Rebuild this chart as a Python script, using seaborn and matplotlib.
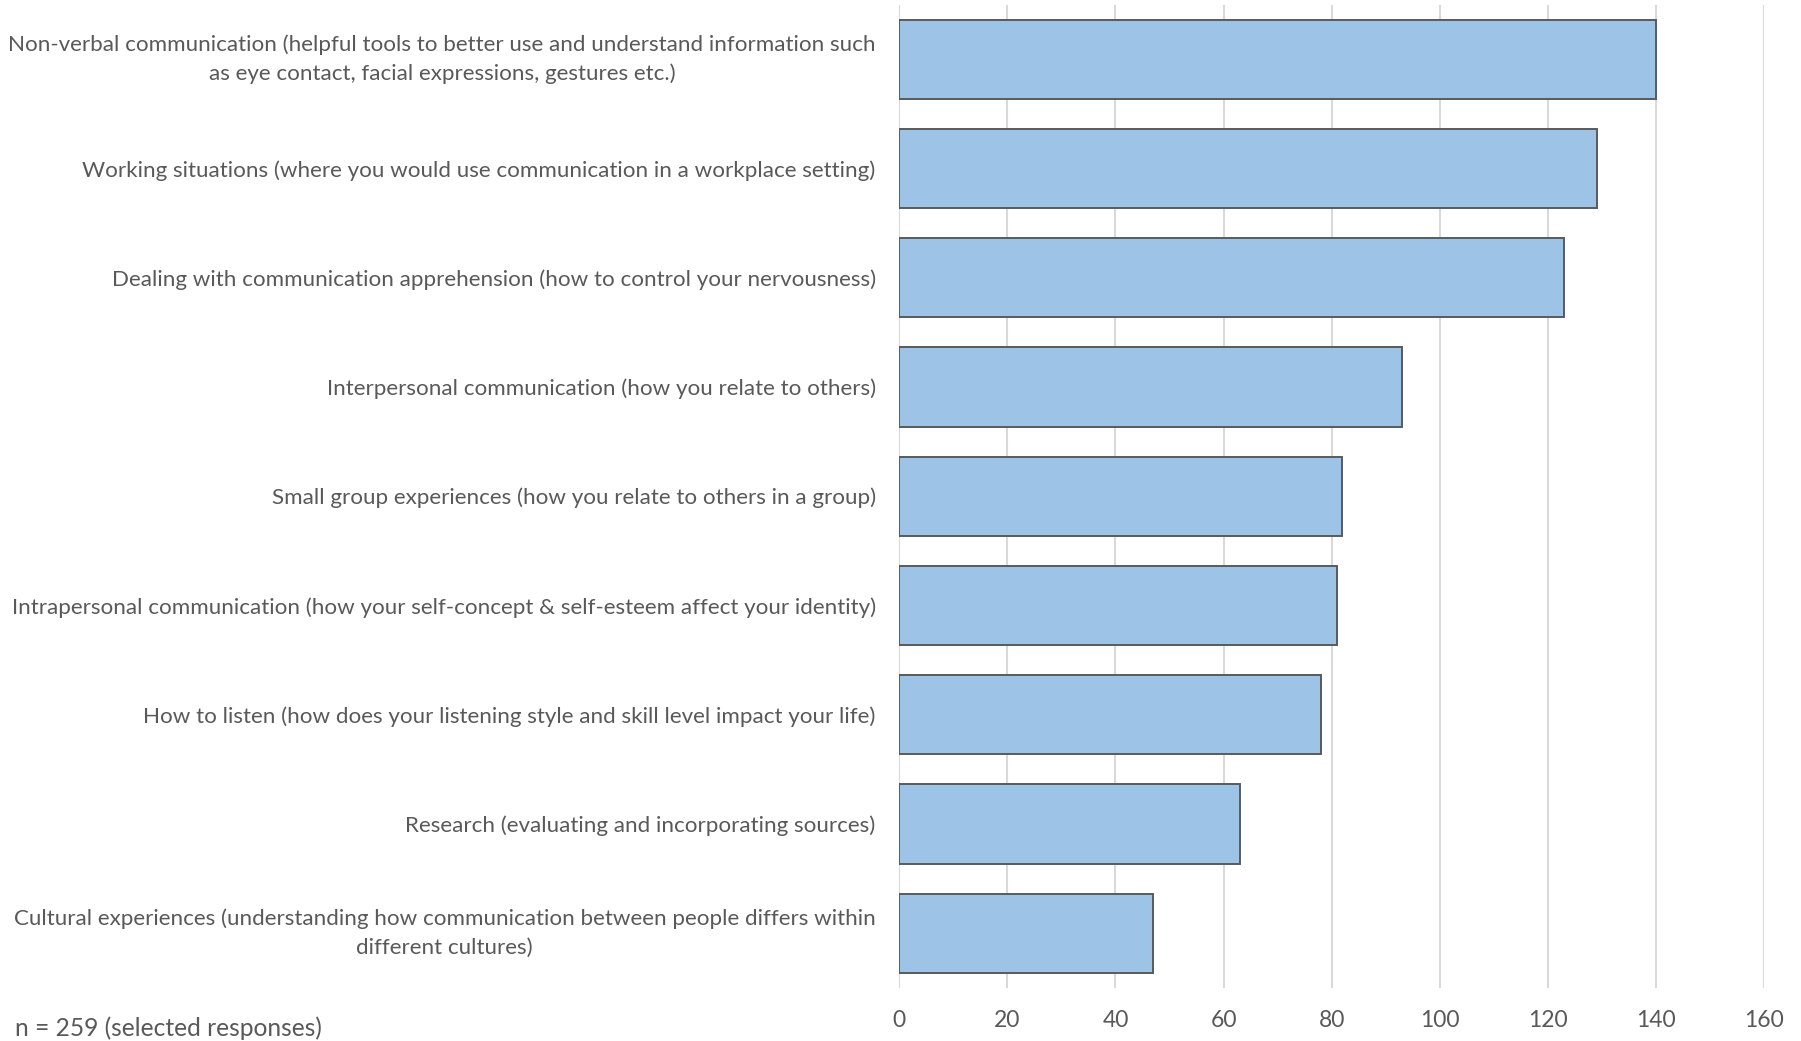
import matplotlib
matplotlib.use("Agg")
import matplotlib.pyplot as plt
import seaborn as sns
import pandas as pd

categories = [
    "Non-verbal communication (helpful tools to better use and understand information such\nas eye contact, facial expressions, gestures etc.)",
    "Working situations (where you would use communication in a workplace setting)",
    "Dealing with communication apprehension (how to control your nervousness)",
    "Interpersonal communication (how you relate to others)",
    "Small group experiences (how you relate to others in a group)",
    "Intrapersonal communication (how your self-concept & self-esteem affect your identity)",
    "How to listen (how does your listening style and skill level impact your life)",
    "Research (evaluating and incorporating sources)",
    "Cultural experiences (understanding how communication between people differs within\ndifferent cultures)",
]
responses = [140, 129, 123, 93, 82, 81, 78, 63, 47]
x_ticks = [0, 20, 40, 60, 80, 100, 120, 140, 160]
note = "n = 259 (selected responses)"

df = pd.DataFrame({"topic": categories, "count": responses})

sns.set_theme(style="white")
plt.rcParams["font.family"] = ["Lato", "DejaVu Sans"]

text_color = "#595959"
fig = plt.figure(figsize=(18.01, 10.41), dpi=100)
ax = fig.add_axes([0.4993, 0.0511, 0.4802, 0.9445])

sns.barplot(data=df, x="count", y="topic", orient="h", color="#9DC3E6",
            saturation=1, width=0.725, edgecolor="#5A5A5A", linewidth=1.4,
            ax=ax, zorder=3)

ax.set_xlim(0, 160)
ax.set_ylim(len(categories) - 0.5, -0.5)
ax.set_xticks(x_ticks)
ax.set_xticklabels([str(t) for t in x_ticks])
ax.xaxis.grid(True, color="#D9D9D9", linewidth=1.5, zorder=0)
ax.yaxis.grid(False)
for s in ax.spines.values():
    s.set_visible(False)
ax.set_xlabel("")
ax.set_ylabel("")
ax.tick_params(axis="x", length=0, pad=16, labelsize=16.5, labelcolor=text_color)
ax.tick_params(axis="y", length=0, pad=17, labelsize=16.1, labelcolor=text_color)
for lbl in ax.get_yticklabels():
    lbl.set_multialignment("center")
    lbl.set_linespacing(1.55)
    if "\n" in lbl.get_text():
        lbl.set_verticalalignment("center")

fig.text(0.0083, 0.0125, note, fontsize=17.7, color=text_color, ha="left", va="center")

fig.savefig("out.png", dpi=100)
